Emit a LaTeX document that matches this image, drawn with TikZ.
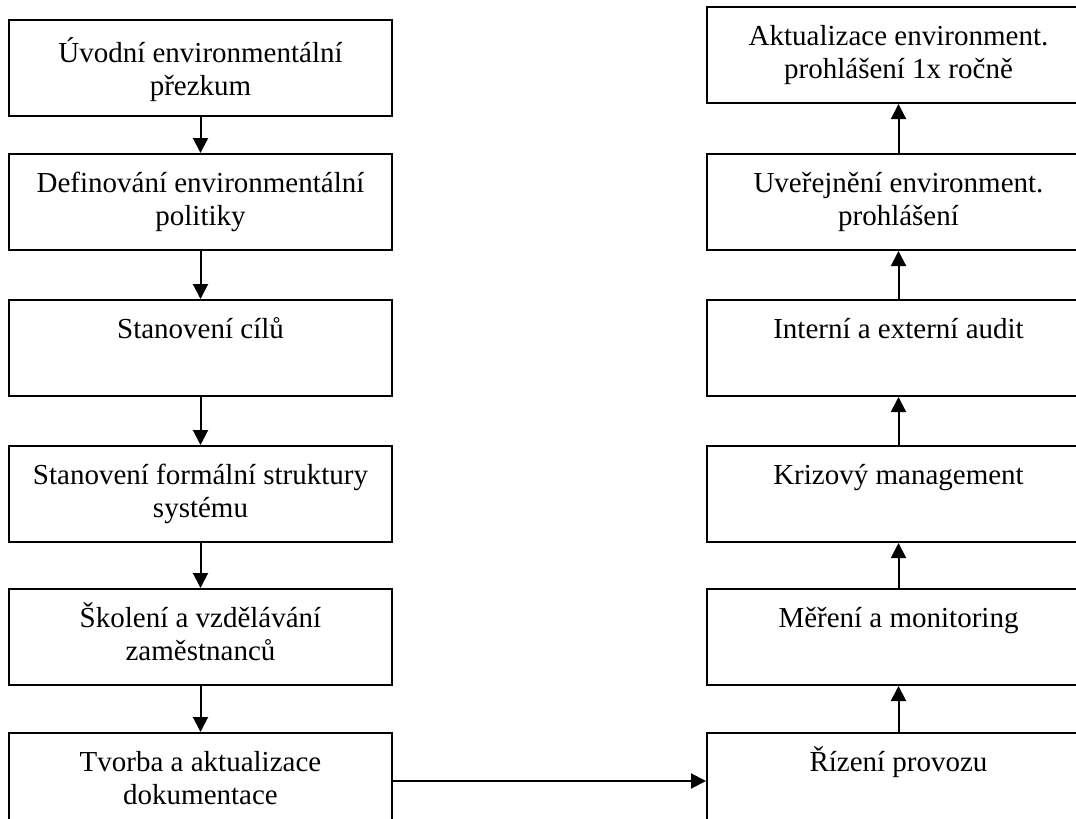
\documentclass[tikz,border=0pt]{standalone}
\usepackage{fontspec}
\setmainfont{Liberation Serif}
\usetikzlibrary{arrows.meta,positioning}
\newcommand\stagetext[2][38pt]{\parbox[c][96pt][t]{383pt}{\centering\rule{0pt}{#1}#2}}
\tikzset{
    stage/.style =  {rectangle,
                    fill=white,
                    draw=black,
                    text=black,
                    line width=2pt,
                    inner sep=0pt,
                    minimum width=383pt,
                    minimum height=96pt,
                    font=\fontsize{29}{33}\selectfont},
    flow/.style =   {line width=2pt,
                    -{Triangle[width=15pt,length=15pt]}},
    node distance=48pt}

\begin{document}
\begin{tikzpicture}[x=1pt,y=-1pt]
                \useasboundingbox (0,0) rectangle (1076,819);
                \clip (0,0) rectangle (1076,819);
                \node[stage]    (L1) at (200.5,68)          {\stagetext[42pt]{Úvodní environmentální\\přezkum}};
                \node[stage]    (L2) [below=36pt of L1]     {\stagetext{Definování environmentální\\politiky}};
                \node[stage]    (L3) [below=of L2]          {\stagetext{Stanovení cílů}};
                \node[stage]    (L4) [below=of L3]          {\stagetext{Stanovení formální struktury\\systému}};
                \node[stage]    (L5) [below=45pt of L4]     {\stagetext{Školení a vzdělávání\\zaměstnanců}};
                \node[stage]    (L6) [below=46pt of L5]     {\stagetext{Tvorba a aktualizace\\dokumentace}};
                \node[stage]    (R6) [right=313pt of L6]    {\stagetext{Řízení provozu}};
                \node[stage]    (R5) [right=313pt of L5]    {\stagetext{Měření a monitoring}};
                \node[stage]    (R4) [right=313pt of L4]    {\stagetext{Krizový management}};
                \node[stage]    (R3) [right=313pt of L3]    {\stagetext{Interní a externí audit}};
                \node[stage]    (R2) [right=313pt of L2]    {\stagetext{Uveřejnění environment.\\prohlášení}};
                \node[stage]    (R1) [above=49pt of R2]     {\stagetext{Aktualizace environment.\\prohlášení 1x ročně}};
                \path [flow]    (L1) edge (L2)
                                (L2) edge (L3)
                                (L3) edge (L4)
                                (L4) edge (L5)
                                (L5) edge (L6)
                                (L6) edge (R6)
                                (R6) edge (R5)
                                (R5) edge (R4)
                                (R4) edge (R3)
                                (R3) edge (R2)
                                (R2) edge (R1);
        \end{tikzpicture}
\end{document}
